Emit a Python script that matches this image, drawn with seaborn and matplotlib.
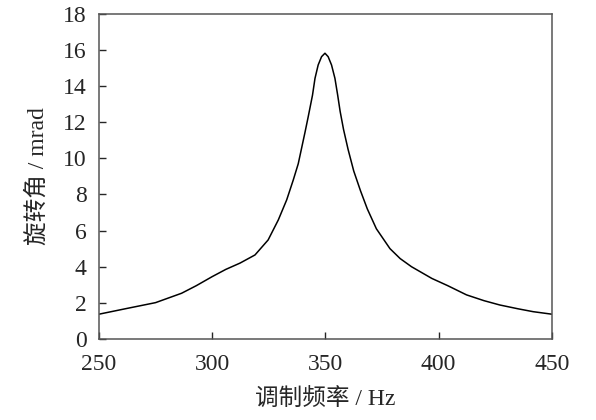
import pandas as pd
import matplotlib
matplotlib.use("Agg")
import matplotlib.pyplot as plt
import seaborn as sns

# ================= 绘图配置 =================
sns.set_style("ticks")
plt.rcParams["font.family"] = ["Liberation Serif", "Noto Sans CJK SC", "DejaVu Sans"]
plt.rcParams["axes.unicode_minus"] = False

# 数据：调制频率 (Hz) 与 旋转角 (mrad)
freq = [250, 262, 275, 286.5, 293, 300, 306, 312.3, 318.9, 324.7, 329.2, 332.9,
        335.8, 338, 339.2, 341, 342.4, 344.3, 345.4, 346.8, 348.3, 349.8,
        351.2, 352.7, 354.2, 355.4, 356.5, 358, 360, 362.5, 365.5, 368.5,
        372.5, 378.5, 383, 388, 397, 404, 412.3, 420, 427, 435, 441.7, 450]
angle = [1.37, 1.68, 2.01, 2.53, 2.95, 3.45, 3.85, 4.2, 4.65, 5.48, 6.59, 7.7,
         8.8, 9.7, 10.4, 11.45, 12.3, 13.5, 14.43, 15.17, 15.63, 15.82,
         15.63, 15.17, 14.43, 13.51, 12.6, 11.6, 10.5, 9.3, 8.2, 7.2,
         6.1, 5.0, 4.45, 4.0, 3.35, 2.95, 2.44, 2.12, 1.88, 1.67, 1.51, 1.37]

df = pd.DataFrame({"freq": freq, "angle": angle})

fig = plt.figure(figsize=(5.96, 4.2), dpi=100)
ax = fig.add_axes([0.166, 0.193, 0.76, 0.774])

sns.lineplot(data=df, x="freq", y="angle", color="black", linewidth=1.1, ax=ax)

ax.set_xlim(250, 450)
ax.set_ylim(0, 18)
ax.set_xticks([250, 300, 350, 400, 450])
ax.set_yticks(range(0, 19, 2))
ax.tick_params(direction="in", length=5, width=1, labelsize=17,
               top=False, right=False)
ax.tick_params(axis="x", pad=11)
ax.tick_params(axis="y", pad=9)

for s in ax.spines.values():
    s.set_color("#555555")
    s.set_linewidth(1.1)

ax.set_xlabel("调制频率 / Hz", fontsize=17, labelpad=10)
ax.set_ylabel("旋转角 / mrad", fontsize=17, labelpad=10)

plt.savefig("out.png", dpi=100)
